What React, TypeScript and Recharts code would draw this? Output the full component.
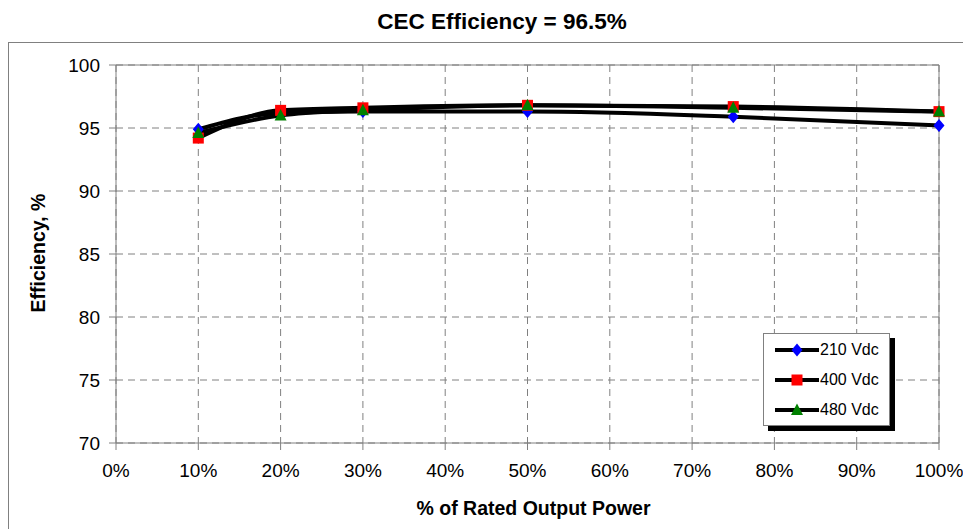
import React from "react";
import {
    LineChart,
    Line,
    XAxis,
    YAxis,
    CartesianGrid,
    ReferenceLine,
    Legend,
} from "recharts";

// % of rated output power where measurements were taken
const loadPct = [10, 20, 30, 50, 75, 100];

// efficiency (%) for each DC input voltage
const eff210 = [94.9, 96.2, 96.3, 96.3, 95.9, 95.2];
const eff400 = [94.2, 96.4, 96.6, 96.8, 96.7, 96.3];
const eff480 = [94.6, 96.0, 96.4, 96.8, 96.6, 96.3];

const xTicks = [0, 10, 20, 30, 40, 50, 60, 70, 80, 90, 100];
const yTicks = [70, 75, 80, 85, 90, 95, 100];

const series = [
    { key: "v210", name: "210 Vdc", shape: "diamond", color: "#0000FF" },
    { key: "v400", name: "400 Vdc", shape: "square", color: "#FF0000" },
    { key: "v480", name: "480 Vdc", shape: "triangle", color: "#008000" },
];

const data = loadPct.map((p, i) => ({
    pct: p,
    v210: eff210[i],
    v400: eff400[i],
    v480: eff480[i],
}));

const FONT = '"Liberation Sans", Arial, sans-serif';
const GRAY = "#808080";

function Marker({ cx, cy, shape, color }: any) {
    if (cx == null || cy == null) return null;
    if (shape === "diamond") {
        return (
            <polygon
                points={`${cx},${cy - 6.5} ${cx + 5.5},${cy} ${cx},${cy + 6.5} ${cx - 5.5},${cy}`}
                fill={color}
            />
        );
    }
    if (shape === "square") {
        return <rect x={cx - 5.5} y={cy - 5.5} width={11} height={11} fill={color} />;
    }
    return (
        <polygon
            points={`${cx},${cy - 6.5} ${cx + 6},${cy + 5} ${cx - 6},${cy + 5}`}
            fill={color}
        />
    );
}

const LegendBox = () => (
    <div
        style={{
            width: 127,
            height: 93,
            boxSizing: "border-box",
            border: `1px solid ${GRAY}`,
            background: "#fff",
            boxShadow: "5px 5px 0 #000",
            paddingTop: 1,
            fontFamily: FONT,
        }}
    >
        {series.map((s) => (
            <div
                key={s.key}
                style={{ display: "flex", alignItems: "center", height: 30, paddingLeft: 11 }}
            >
                <svg width={44} height={16}>
                    <line x1={0} y1={8} x2={44} y2={8} stroke="#000" strokeWidth={4} />
                    <Marker cx={22} cy={8} shape={s.shape} color={s.color} />
                </svg>
                <span style={{ fontSize: 16, color: "#000", marginLeft: 1 }}>{s.name}</span>
            </div>
        ))}
    </div>
);

export default function App() {
    return (
        <div
            style={{
                position: "relative",
                width: 963,
                height: 521,
                overflow: "hidden",
                fontFamily: FONT,
            }}
        >
            <div
                style={{
                    position: "absolute",
                    left: 0,
                    top: 34,
                    right: -10,
                    bottom: -10,
                    border: `1px solid ${GRAY}`,
                }}
            />
            <div
                style={{
                    position: "absolute",
                    left: 294,
                    width: 400,
                    top: 3,
                    textAlign: "center",
                    fontSize: 22.5,
                    lineHeight: "22px",
                    fontWeight: "bold",
                    color: "#000",
                }}
            >
                CEC Efficiency = 96.5%
            </div>
            <LineChart
                width={963}
                height={521}
                data={data}
                margin={{ top: 57, right: 32, bottom: 56, left: 48 }}
                style={{ position: "absolute", left: 0, top: 0 }}
            >
                <CartesianGrid stroke={GRAY} strokeDasharray="7 5" />
                <ReferenceLine y={100} stroke={GRAY} />
                <ReferenceLine x={100} stroke={GRAY} />
                <XAxis
                    type="number"
                    dataKey="pct"
                    domain={[0, 100]}
                    ticks={xTicks}
                    interval={0}
                    height={30}
                    tickFormatter={(v: number) => `${v}%`}
                    stroke={GRAY}
                    tickSize={7}
                    tickMargin={14}
                    tick={{ fill: "#000", fontSize: 19, fontFamily: FONT }}
                    label={{
                        content: (p: any) => {
                            const vb = p.viewBox || { x: 108, width: 823 };
                            return (
                                <text
                                    x={vb.x + vb.width / 2 + 6}
                                    y={507}
                                    textAnchor="middle"
                                    fontSize={19.5}
                                    fontWeight="bold"
                                    fontFamily={FONT}
                                    fill="#000"
                                >
                                    % of Rated Output Power
                                </text>
                            );
                        },
                    }}
                />
                <YAxis
                    type="number"
                    domain={[70, 100]}
                    ticks={yTicks}
                    interval={0}
                    width={60}
                    stroke={GRAY}
                    tickSize={7}
                    tickMargin={9}
                    tick={{ fill: "#000", fontSize: 19, fontFamily: FONT }}
                    label={{
                        content: () => (
                            <text
                                x={37}
                                y={245}
                                transform="rotate(-90 37 245)"
                                textAnchor="middle"
                                fontSize={19.5}
                                fontWeight="bold"
                                fontFamily={FONT}
                                fill="#000"
                            >
                                Efficiency, %
                            </text>
                        ),
                    }}
                />
                {series.map((s) => (
                    <Line
                        key={s.key}
                        type="monotone"
                        dataKey={s.key}
                        name={s.name}
                        stroke="#000"
                        strokeWidth={4}
                        dot={(p: any) => (
                            <Marker key={`${s.key}-${p.index}`} cx={p.cx} cy={p.cy} shape={s.shape} color={s.color} />
                        )}
                        activeDot={false}
                        isAnimationActive={false}
                    />
                ))}
                <Legend
                    layout="horizontal"
                    verticalAlign="middle"
                    align="center"
                    content={() => <LegendBox />}
                    wrapperStyle={{ left: 755, top: 325, width: 127, bottom: "auto", right: "auto" }}
                />
            </LineChart>
        </div>
    );
}
